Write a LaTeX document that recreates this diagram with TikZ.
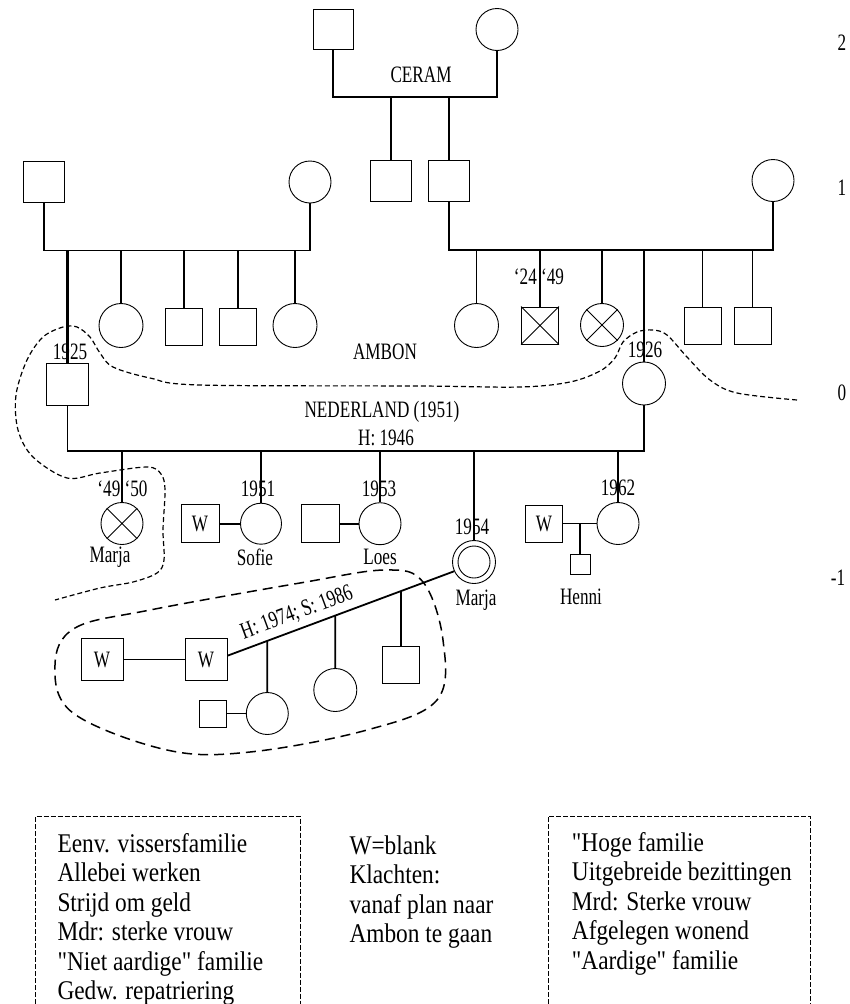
\documentclass[tikz,border=0pt]{standalone}
\usepackage{fontspec}
\setmainfont{Liberation Serif}
\newfontfamily\labf[FakeStretch=0.73]{Liberation Serif}
\newfontfamily\boxf[FakeStretch=0.865]{Liberation Serif}
\usetikzlibrary{calc}
\tikzset{
  sqr/.style={draw, rectangle, minimum size=#1, inner sep=0pt, line width=0.9pt, font=\labf\fontsize{23.5}{27}\selectfont},
  sqr/.default=40,
  crc/.style={draw, circle, minimum size=#1, inner sep=0pt, line width=0.9pt},
  crc/.default=42,
  lab/.style={font=\labf\fontsize{23.5}{27}\selectfont, inner sep=0pt},
  ln/.style={line width=1.8pt},
  xln/.style={line width=0.9pt},
  finedash/.style={line width=1.2pt, dash pattern=on 5pt off 3pt},
  loopdash/.style={line width=1.5pt, dash pattern=on 10pt off 6pt},
  boxdash/.style={line width=0.9pt, dash pattern=on 5pt off 2pt},
  boxtxt/.style={font=\boxf\fontsize{27}{29.5}\selectfont, align=left, anchor=north west, inner sep=0pt}
}
\begin{document}
\begin{tikzpicture}[x=1pt,y=-1pt]
\useasboundingbox (0,0) rectangle (849,1004);

% ---- CERAM generation ----
\node[sqr=40] (cf) at (333,29.5) {};
\node[crc=42] (cmo) at (497,29.5) {};
\coordinate (cmL) at (333,97);
\coordinate (cmR) at (497,97);
\draw[ln] (cf.south) -- (cmL) -- (cmR) -- (cmo.south);
\node[lab] (ceram) at (421,75) {CERAM};
\node[sqr=41] (cs1) at (391,180.5) {};
\node[sqr=41] (cs2) at (449,180.5) {};
\draw[ln] (cs1.north) -- (cs1.north |- cmL);
\draw[ln] (cs2.north) -- (cs2.north |- cmL);

% ---- left (Ambon) family ----
\node[sqr=41] (af) at (44,182) {};
\node[crc=42] (amo) at (310,182) {};
\coordinate (amL) at (44,250.5);
\coordinate (amR) at (310,250.5);
\draw[ln] (af.south) -- (amL) -- (amR) -- (amo.south);
\node[sqr=42] (p1925) at (67.5,384) {};
\node[crc=44] (a1) at (121,325.5) {};
\node[sqr=37] (a2) at (184,326.5) {};
\node[sqr=37] (a3) at (238,326.5) {};
\node[crc=44] (a4) at (295,325.5) {};
\draw[line width=2.6pt] (p1925.north) -- (p1925.north |- amL);
\foreach \n in {a1,a2,a4} \draw[ln] (\n.north) -- (\n.north |- amL);
\draw[line width=2.4pt] (a3.north) -- (a3.north |- amL);

% ---- right family ----
\node[crc=42] (bmo) at (773,180.5) {};
\coordinate (bmL) at (449,250);
\coordinate (bmR) at (773,250);
\draw[ln] (cs2.south) -- (bmL) -- (bmR) -- (bmo.south);
\node[crc=44] (b1) at (476.5,325.5) {};
\node[sqr=37] (b2) at (540,325.5) {};
\node[crc=43] (b3) at (602,325) {};
\node[crc=43] (p1926) at (644,383.5) {};
\node[sqr=37] (b5) at (702.5,325.5) {};
\node[sqr=37] (b6) at (752.5,325.5) {};
\foreach \n in {b1,b2,b3,b5,b6,p1926} \draw[ln] (\n.north) -- (\n.north |- bmL);
\draw[xln] (b2.north west) -- (b2.south east) (b2.north east) -- (b2.south west);
\draw[xln] (b3.45) -- (b3.225) (b3.135) -- (b3.315);

\node[lab] (lambon) at (385,352) {AMBON};
\node[lab] (l1925) at (70,352) {1925};
\node[lab] (l2449) at (539,277) {‘24 ‘49};
\node[lab] (l1926) at (645,350) {1926};

% ---- Nederland generation ----
\coordinate (mL) at (67.5,450.7);
\coordinate (mR) at (644,450.7);
\draw[ln] (p1925.south) -- (mL) -- (mR) -- (p1926.south);
\node[lab] (lned) at (382,412) {NEDERLAND (1951)};
\node[lab] (lh46) at (386,438) {H: 1946};

\node[crc=42] (k1) at (122,523.5) {};
\draw[xln] (k1.45) -- (k1.225) (k1.135) -- (k1.315);
\node[crc=41] (k2) at (261,523.7) {};
\node[sqr=38] (k2w) at (200,523.7) {W};
\draw[ln] (k2w.east) -- (k2.west);
\node[crc=42] (k3) at (380,523.7) {};
\node[sqr=38] (k3h) at (320.5,523.7) {};
\draw[ln] (k3h.east) -- (k3.west);
\node[crc=43] (k4) at (474,562) {};
\node[crc=32] (k4i) at (474,562) {};
\node[crc=42] (k5) at (618,523.5) {};
\node[sqr=37] (k5w) at (544,523.5) {W};
\draw[ln] (k5w.east) -- (k5.west);
\coordinate (k5j) at (580,523.5);
\node[sqr=20] (henni) at (580,564.5) {};
\draw[ln] (k5j) -- (henni.north);
\foreach \n in {k1,k2,k3,k4,k5} \draw[ln] (\n.north) -- (\n.north |- mL);

\node[lab] (l4950) at (122.5,489) {‘49 ‘50};
\node[lab] (l1951) at (258,489) {1951};
\node[lab] (l1953) at (379,489) {1953};
\node[lab] (l1962) at (618,488) {1962};
\node[lab] (l1954) at (472,527) {1954};
\node[lab] (lmarja1) at (110,557) {Marja};
\node[lab] (lsofie) at (255,557) {Sofie};
\node[lab] (lloes) at (380,557) {Loes};
\node[lab] (lmarja2) at (476,600) {Marja};
\node[lab] (lhenni) at (581,597) {Henni};

% ---- Marja's family ----
\node[sqr=42] (w1) at (102,659.5) {W};
\node[sqr=42] (w2) at (206,659.5) {W};
\draw[ln] (w1.east) -- (w2.west);
\draw[ln] (w2.10) -- (k4.205);
\node[crc=42] (g1) at (267.3,713.5) {};
\node[sqr=27] (g1s) at (213.3,713.5) {};
\draw[ln] (g1s.east) -- (g1.west);
\node[crc=43] (g2) at (335.3,690) {};
\node[sqr=37] (g3) at (401,665.3) {};
\foreach \n in {g1,g2,g3}
  \draw[ln] (\n.north) -- (intersection of w2.10--k4.205 and \n.north--\n.south);
\node[lab, rotate=20.4] (lh74) at (297,613) {H: 1974; S: 1986};

% ---- dashed boundaries ----
\draw[finedash] plot[smooth, tension=0.55] coordinates {(797,400) (737,393) (710,380) (687,357) (667,335) (653,330) (637,332) (623,342) (615,358) (600,371) (570,382) (520,387) (420,386) (200,385) (150,378) (113,367) (100,353) (90,337) (77,327) (63,327) (43,337) (27,360) (16,395) (18,430) (33,457) (67,478) (100,473) (147,467) (161,474) (165,490) (163,530) (164,560) (157,573) (133,582) (100,588) (55,600)};
\draw[loopdash] plot[smooth cycle, tension=0.6] coordinates {(55,665) (75,628) (150,610) (300,583) (385,570) (423,582) (443,640) (437,700) (367,730) (250,752) (167,750) (73,713)};

% ---- generation numbers ----
\node[lab] (g2n) at (842,43) {2};
\node[lab] (g1n) at (842,188) {1};
\node[lab] (g0n) at (842,393) {0};
\node[lab] (gm1n) at (838,578) {-1};

% ---- text boxes ----
\coordinate (bx1a) at (35.7,1004);
\coordinate (bx1b) at (35.7,816);
\coordinate (bx1c) at (300,816);
\coordinate (bx1d) at (300,1004);
\draw[boxdash] (bx1a) -- (bx1b) -- (bx1c) -- (bx1d);
\coordinate (bx3a) at (548,1004);
\coordinate (bx3b) at (548,816);
\coordinate (bx3c) at (810,816);
\coordinate (bx3d) at (810,1004);
\draw[boxdash] (bx3a) -- (bx3b) -- (bx3c) -- (bx3d);
\node[boxtxt] (t1) at (57.3,833) {Eenv. vissersfamilie\\Allebei werken\\Strijd om geld\\Mdr: sterke vrouw\\"Niet aardige" familie\\Gedw. repatriering};
\node[boxtxt] (t2) at (349.3,835.5) {W=blank\\Klachten:\\vanaf plan naar\\Ambon te gaan};
\node[boxtxt] (t3) at (571.7,832) {"Hoge familie\\Uitgebreide bezittingen\\Mrd: Sterke vrouw\\Afgelegen wonend\\"Aardige" familie};
\end{tikzpicture}
\end{document}
